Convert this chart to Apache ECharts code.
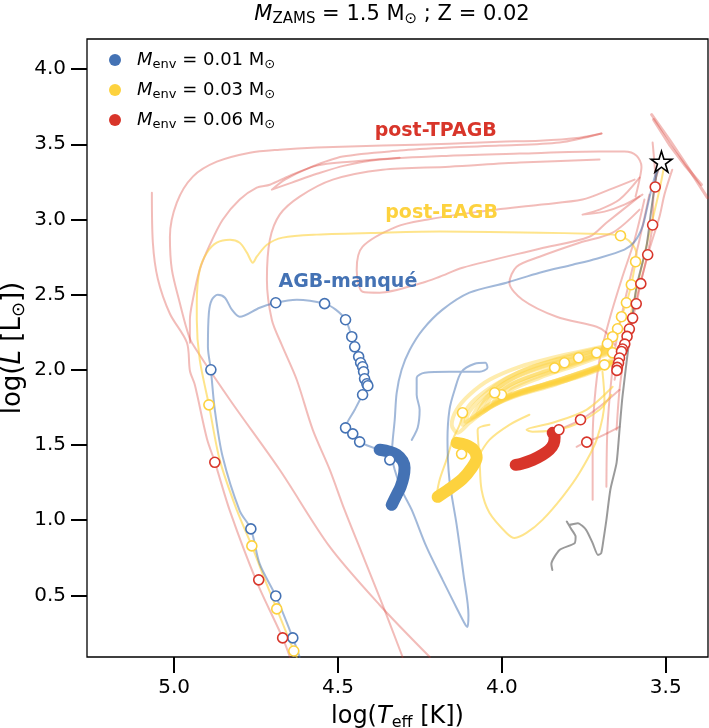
<!DOCTYPE html>
<html><head><meta charset="utf-8">
<script src="https://cdn.jsdelivr.net/npm/echarts@6/dist/echarts.min.js"></script>
<style>html,body{margin:0;padding:0;background:#fff}#c{width:709px;height:728px}</style>
</head><body><div id="c"></div>
<script>
// ---------------- data (log Teff, log L) ----------------
const xTicks = [3.5, 4.0, 4.5, 5.0];
const yTicks = [0.5, 1.0, 1.5, 2.0, 2.5, 3.0, 3.5, 4.0];
const envValues = ['0.01', '0.03', '0.06'];
const annotationTexts = ['post-TPAGB', 'post-EAGB', 'AGB-manqué'];
const annotationPos = [[4.202, 3.591], [4.184, 3.045], [4.470, 2.586]];
const starPoint = [[3.513, 3.384]];

const grayTrack = [[3.846,0.669],[3.849,0.709],[3.824,0.802],[3.778,0.847],[3.775,0.891],[3.788,0.940],[3.802,0.991],[3.794,0.969],[3.768,0.980],[3.743,0.936],[3.723,0.847],[3.707,0.769],[3.697,0.780],[3.690,0.869],[3.681,1.002],[3.669,1.202],[3.650,1.381],[3.641,1.601],[3.632,1.821],[3.611,2.200],[3.589,2.553],[3.559,2.819],[3.544,3.065],[3.528,3.298],[3.516,3.378]];

// M_env = 0.01 (blue)
const blueTrackA = [[3.513,3.384],[3.531,3.298],[3.544,3.198],[3.556,3.085],[3.571,2.952],[3.595,2.852],[3.626,2.799],[3.711,2.739],[3.784,2.699],[3.885,2.646],[3.986,2.579],[4.099,2.513],[4.181,2.400],[4.242,2.266],[4.281,2.133],[4.306,2.000],[4.321,1.847],[4.327,1.667],[4.333,1.534],[4.336,1.435],[4.327,1.335],[4.306,1.202],[4.275,1.068],[4.230,0.822],[4.181,0.603],[4.135,0.403],[4.111,0.303],[4.105,0.290],[4.102,0.370],[4.117,0.636],[4.138,0.969],[4.160,1.268],[4.166,1.534],[4.160,1.734],[4.144,1.867],[4.123,1.987],[4.083,2.040],[4.050,2.047],[4.044,2.014],[4.068,1.987],[4.160,1.987],[4.236,1.980],[4.260,1.947],[4.260,1.834],[4.251,1.734],[4.257,1.614],[4.275,1.534]];
const blueTrackB = [[4.373,1.468],[4.434,1.521],[4.455,1.574],[4.477,1.614],[4.449,1.734],[4.425,1.834],[4.409,1.894],[4.412,1.907],[4.419,1.940],[4.422,1.987],[4.425,2.020],[4.431,2.047],[4.437,2.087],[4.449,2.153],[4.458,2.220],[4.477,2.333],[4.507,2.400],[4.541,2.440],[4.626,2.466],[4.690,2.446],[4.739,2.413],[4.800,2.353],[4.824,2.400],[4.845,2.479],[4.867,2.499],[4.885,2.466],[4.894,2.380],[4.897,2.153],[4.888,2.000],[4.876,1.734],[4.852,1.421],[4.800,1.062],[4.766,0.942],[4.739,0.709],[4.690,0.496],[4.638,0.217],[4.617,0.090]];
const blueBlob = [[4.373,1.468],[4.342,1.455],[4.321,1.435],[4.303,1.395],[4.297,1.348],[4.300,1.288],[4.309,1.222],[4.321,1.168],[4.336,1.102]];
const blueMarkers = [[4.690,2.446],[4.541,2.440],[4.477,2.333],[4.458,2.220],[4.449,2.153],[4.437,2.087],[4.431,2.047],[4.425,2.020],[4.422,1.987],[4.419,1.940],[4.412,1.907],[4.409,1.894],[4.425,1.834],[4.477,1.614],[4.455,1.574],[4.434,1.521],[4.342,1.401],[4.888,2.000],[4.766,0.942],[4.690,0.496],[4.638,0.217]];

// M_env = 0.03 (yellow)
const yellowTrackA = [[3.711,2.113],[3.690,2.133],[3.678,2.173],[3.662,2.220],[3.647,2.273],[3.635,2.353],[3.620,2.446],[3.605,2.566],[3.592,2.719],[3.589,2.765],[3.601,2.832],[3.626,2.879],[3.662,2.899],[3.733,2.905],[3.885,2.912],[4.190,2.919],[4.364,2.912],[4.565,2.899],[4.669,2.879],[4.717,2.832],[4.748,2.752],[4.760,2.712],[4.778,2.779],[4.800,2.845],[4.830,2.865],[4.870,2.845],[4.900,2.779],[4.922,2.666],[4.931,2.446],[4.931,2.333],[4.922,2.067],[4.894,1.767],[4.861,1.401],[4.809,1.068],[4.763,0.829],[4.723,0.603],[4.687,0.410],[4.635,0.130],[4.626,0.090]];
const yellowTrackB = [[3.504,3.364],[3.519,3.198],[3.544,2.965],[3.565,2.765],[3.586,2.566],[3.611,2.333],[3.635,2.167],[3.656,2.080]];
const yellowTrackC = [[3.693,1.987],[3.687,1.801],[3.711,1.534],[3.763,1.315],[3.815,1.155],[3.876,1.002],[3.925,0.915],[3.961,0.882],[3.986,0.915],[4.038,1.049],[4.062,1.202],[4.068,1.401],[4.074,1.601],[4.038,1.634]];
const yellowTrackD = [[3.662,1.887],[3.742,1.734],[3.845,1.648],[3.925,1.601],[3.906,1.588],[3.794,1.621],[3.702,1.734],[3.666,1.834]];
const yellowTrackE = [[4.120,1.701],[4.129,1.634],[4.150,1.534],[4.169,1.401],[4.190,1.268],[4.199,1.168]];
const yellowTrackF = [[4.074,1.415],[4.038,1.534],[3.977,1.634],[3.916,1.701]];
const yellowLoop1 = [[3.666,2.167],[3.763,2.120],[3.845,2.080],[3.946,2.020],[4.038,1.934],[4.099,1.834],[4.138,1.734],[4.153,1.634],[4.135,1.581],[4.099,1.648],[4.038,1.747],[3.946,1.847],[3.855,1.914],[3.763,1.980],[3.666,2.053]];
const yellowLoop2 = [[3.666,2.153],[3.763,2.100],[3.855,2.053],[3.946,1.987],[4.022,1.900],[4.083,1.801],[4.114,1.714],[4.120,1.634],[4.099,1.667],[4.053,1.734],[3.977,1.814],[3.870,1.887],[3.763,1.954],[3.666,2.033]];
const yellowLoop3 = [[3.666,2.140],[3.763,2.080],[3.870,2.020],[3.961,1.947],[4.022,1.867],[4.068,1.767],[4.092,1.681],[4.074,1.694],[4.022,1.767],[3.946,1.834],[3.839,1.900],[3.733,1.987],[3.666,2.053]];
const yellowLoop4 = [[3.666,2.133],[3.778,2.053],[3.885,1.980],[3.977,1.900],[4.031,1.821],[4.053,1.734],[4.022,1.774],[3.946,1.854],[3.824,1.934],[3.702,2.027]];
const yellowLoop5 = [[3.666,2.120],[3.794,2.027],[3.916,1.934],[3.992,1.854],[4.007,1.801],[3.961,1.834],[3.855,1.900],[3.733,1.987],[3.666,2.067]];
const yellowLoop6 = [[3.666,2.160],[3.748,2.120],[3.839,2.067],[3.931,2.000],[4.007,1.914],[4.062,1.814],[4.099,1.721],[4.111,1.654],[4.086,1.681],[4.044,1.761],[3.977,1.834],[3.885,1.894],[3.778,1.967],[3.666,2.047]];
const yellowLoop7 = [[3.666,2.147],[3.763,2.087],[3.861,2.033],[3.952,1.960],[4.013,1.880],[4.050,1.801],[4.074,1.707],[4.047,1.734],[4.007,1.801],[3.931,1.867],[3.830,1.920],[3.717,2.000],[3.666,2.040]];
const yellowLoop8 = [[3.666,2.127],[3.769,2.053],[3.870,1.987],[3.961,1.914],[4.013,1.834],[4.028,1.767],[3.983,1.814],[3.900,1.880],[3.794,1.947],[3.687,2.027]];
const yellowLoop9 = [[3.666,2.113],[3.778,2.027],[3.885,1.947],[3.970,1.867],[3.983,1.814],[3.916,1.860],[3.809,1.927],[3.702,2.007]];
const yellowBlob = [[4.196,1.155],[4.160,1.208],[4.120,1.275],[4.092,1.348],[4.077,1.415],[4.086,1.468],[4.111,1.501],[4.138,1.514]];
const yellowMarkers = [[3.638,2.892],[3.592,2.719],[3.605,2.566],[3.620,2.446],[3.635,2.353],[3.647,2.273],[3.662,2.220],[3.678,2.173],[3.711,2.113],[3.662,2.113],[3.687,2.033],[3.766,2.080],[3.809,2.047],[3.839,2.013],[4.001,1.834],[4.022,1.847],[4.120,1.714],[4.123,1.441],[4.894,1.767],[4.763,0.829],[4.687,0.410],[4.635,0.130]];

// M_env = 0.06 (red, post-TPAGB)
const pinkOuter = [[3.696,3.571],[3.763,3.544],[3.885,3.524],[4.007,3.517],[4.160,3.504],[4.364,3.491],[4.565,3.478],[4.678,3.464],[4.769,3.444],[4.870,3.384],[4.943,3.285],[4.992,3.112],[5.013,2.885],[5.007,2.666],[4.983,2.446],[4.961,2.266],[4.946,2.180],[4.830,1.801],[4.678,1.335],[4.525,0.822],[4.373,0.436],[4.220,0.090]];
const pinkHook = [[3.696,3.571],[3.824,3.511],[4.007,3.491],[4.160,3.478],[4.312,3.458],[4.486,3.418],[4.586,3.345],[4.662,3.265],[4.702,3.198],[4.641,3.245],[4.562,3.305],[4.480,3.358],[4.373,3.398],[4.160,3.424],[3.946,3.438],[3.702,3.451],[3.626,3.451],[3.589,3.424],[3.574,3.351],[3.580,3.265],[3.592,3.152]];
const pinkInner = [[4.312,3.411],[4.464,3.384],[4.565,3.358],[4.647,3.291],[4.708,3.231],[4.748,3.211],[4.800,3.132],[4.852,2.998],[4.891,2.832],[4.922,2.666],[4.943,2.466],[4.952,2.333],[4.952,2.180]];
const pinkDown = [[3.702,3.398],[3.946,3.378],[4.160,3.351],[4.364,3.331],[4.516,3.265],[4.617,3.152],[4.678,3.032],[4.708,2.865],[4.717,2.599],[4.702,2.333],[4.672,2.167],[4.626,1.934],[4.577,1.601],[4.525,1.335],[4.480,1.068],[4.419,0.736],[4.358,0.403],[4.303,0.090]];
const pinkCooling = [[5.068,3.178],[5.065,2.845],[5.050,2.606],[5.013,2.373],[4.961,2.180],[4.952,1.994],[4.937,1.900],[4.900,1.541],[4.876,1.388],[4.830,1.062],[4.748,0.590],[4.669,0.217],[4.647,0.090]];
const pinkLoopLeft = [[3.580,3.152],[3.681,2.978],[3.733,2.885],[3.885,2.805],[4.120,2.679],[4.190,2.619],[4.242,2.579],[4.373,2.513],[4.425,2.519],[4.443,2.666],[4.425,2.819],[4.321,2.952],[4.230,2.998],[4.068,3.052],[3.885,3.098],[3.754,3.132],[3.672,3.198],[3.595,3.265]];
const pinkLeaf = [[3.580,3.278],[3.641,3.132],[3.702,3.065],[3.754,3.032],[3.687,3.052],[3.626,3.098],[3.571,3.165]];
const pinkLoopRight = [[3.580,3.065],[3.662,2.912],[3.763,2.845],[3.885,2.752],[3.955,2.686],[3.977,2.579],[3.937,2.466],[3.833,2.353],[3.711,2.286],[3.681,2.246],[3.656,2.167]];
const pinkAgb1 = [[3.565,3.132],[3.595,2.865],[3.635,2.599],[3.672,2.333],[3.702,2.067],[3.717,1.801],[3.723,1.534],[3.723,1.135]];
const pinkAgb2 = [[3.550,3.165],[3.580,2.865],[3.617,2.533],[3.650,2.200],[3.666,1.934],[3.678,1.601],[3.681,1.222]];
const pinkAgb3 = [[3.480,3.331],[3.504,3.165],[3.519,3.018],[3.550,2.799],[3.580,2.553],[3.605,2.333],[3.626,2.100],[3.641,1.867],[3.650,1.601]];
const pinkAgb4 = [[3.513,3.384],[3.531,3.265],[3.538,3.132],[3.540,2.965],[3.556,2.765],[3.577,2.573],[3.589,2.439],[3.601,2.346],[3.617,2.220],[3.632,2.133],[3.644,2.047],[3.650,1.994],[3.656,1.934]];
const pinkAgb5 = [[3.540,3.511],[3.534,3.364],[3.531,3.265]];
const pinkLink1 = [[3.641,1.867],[3.702,1.754],[3.760,1.667],[3.824,1.601],[3.845,1.561]];
const pinkLink2 = [[3.641,1.621],[3.702,1.554],[3.742,1.521],[3.772,1.488]];
const pinkWedgeA = [[3.543,3.697],[3.489,3.531],[3.428,3.331],[3.373,3.145]];
const pinkWedgeB = [[3.537,3.664],[3.489,3.498],[3.443,3.364],[3.391,3.231]];
const redBlob = [[3.958,1.368],[3.940,1.375],[3.906,1.401],[3.876,1.435],[3.855,1.468],[3.842,1.508],[3.839,1.554],[3.845,1.581]];
const redMarkers = [[3.532,3.216],[3.540,2.963],[3.555,2.765],[3.576,2.573],[3.590,2.439],[3.601,2.344],[3.611,2.271],[3.618,2.222],[3.625,2.171],[3.632,2.138],[3.635,2.122],[3.641,2.078],[3.644,2.045],[3.648,2.016],[3.649,1.996],[3.760,1.668],[3.826,1.601],[3.741,1.519],[4.876,1.385],[4.742,0.603],[4.669,0.217]];

// ---------------- chart ----------------
const FONT = 'DejaVu Sans';
const BLUE = '#4472b4', YEL = '#fdd23e', RED = '#d8352a';
const BLUE_L = 'rgba(68,114,180,0.5)', YEL_L = 'rgba(253,210,62,0.6)', RED_L = 'rgba(216,53,42,0.33)';

function lineS(data, color, width, z, smooth) {
  return { type: 'line', data: data, symbol: 'none', showSymbol: false, silent: true,
    smooth: smooth === undefined ? 0.3 : smooth, z: z,
    lineStyle: { color: color, width: width, cap: 'round', join: 'round' } };
}
function blobS(data, color) {
  return { type: 'line', data: data, symbol: 'none', silent: true, smooth: 0.3, z: 4,
    lineStyle: { color: color, width: 12, cap: 'round', join: 'round' } };
}
function markS(name, data, color) {
  return { type: 'scatter', name: name, data: data, symbol: 'circle', symbolSize: 10, z: 5, silent: true,
    itemStyle: { color: '#fff', borderColor: color, borderWidth: 1.6, opacity: 1 } };
}

const series = [];
[pinkOuter, pinkHook, pinkInner, pinkDown, pinkCooling, pinkLoopLeft, pinkLeaf, pinkLoopRight,
 pinkAgb1, pinkAgb2, pinkAgb3, pinkAgb4, pinkAgb5, pinkLink1, pinkLink2].forEach(d => series.push(lineS(d, RED_L, 2, 1)));
series.push(lineS(pinkWedgeA, RED_L, 3, 1, 0));
series.push(lineS(pinkWedgeB, RED_L, 3, 1, 0));
[yellowLoop1, yellowLoop2, yellowLoop3, yellowLoop4, yellowLoop5, yellowLoop6, yellowLoop7, yellowLoop8, yellowLoop9]
  .forEach(d => series.push(lineS(d, 'rgba(253,210,62,0.42)', 4, 2)));
[yellowTrackA, yellowTrackB, yellowTrackC, yellowTrackD, yellowTrackE, yellowTrackF].forEach(d => series.push(lineS(d, YEL_L, 2, 2)));
series.push(lineS(grayTrack, 'rgba(120,120,120,0.75)', 2, 2, 0.2));
[blueTrackA, blueTrackB].forEach(d => series.push(lineS(d, BLUE_L, 2, 3)));
series.push(blobS(blueBlob, BLUE));
series.push(blobS(yellowBlob, YEL));
series.push(blobS(redBlob, RED));
series.push(markS('env1', blueMarkers, BLUE));
series.push(markS('env3', yellowMarkers, YEL));
series.push(markS('env6', redMarkers, RED));
series.push({ type: 'scatter', data: starPoint, z: 6, silent: true,
  symbol: 'path://M50 0 L61.2 34.5 L97.6 34.5 L68.2 55.9 L79.4 90.5 L50 69.1 L20.6 90.5 L31.8 55.9 L2.4 34.5 L38.8 34.5 Z',
  symbolSize: 21, itemStyle: { color: '#fff', borderColor: '#000', borderWidth: 1.6, opacity: 1 } });
const annColors = [RED, YEL, BLUE];
annotationTexts.forEach((t, i) => series.push({ type: 'scatter', data: [annotationPos[i]], symbolSize: 0, z: 7, silent: true,
  itemStyle: { opacity: 1 },
  label: { show: true, position: 'inside', formatter: t, fontFamily: FONT, fontWeight: 'bold', fontSize: 19, color: annColors[i], opacity: 1 } }));

const legendColors = [BLUE, YEL, RED];
const legendNames = ['env1', 'env3', 'env6'];
const richSet = (fs, subfs, pad) => ({
  i: { fontFamily: FONT, fontStyle: 'italic', fontSize: fs, lineHeight: fs + 4, color: '#000' },
  r: { fontFamily: FONT, fontSize: fs, lineHeight: fs + 4, color: '#000' },
  s: { fontFamily: FONT, fontSize: subfs, lineHeight: subfs, padding: [pad, 0, 0, 0], color: '#000' }
});

const option = {
  animation: false,
  backgroundColor: '#fff',
  title: {
    text: '{i|M}{s|ZAMS}{r| = 1.5 M}{s|⊙}{r| ; Z = 0.02}',
    left: 387, top: -3, textAlign: 'center',
    textStyle: { fontFamily: FONT, fontSize: 21, fontWeight: 'normal', color: '#000', rich: richSet(21, 15, 10) }
  },
  grid: { left: 87, right: 1, top: 39, bottom: 71, outerBoundsMode: 'none', containLabel: false,
    show: true, borderColor: '#000', borderWidth: 1.3, backgroundColor: 'transparent' },
  legend: {
    orient: 'vertical', left: 104, top: 44, itemWidth: 28, itemHeight: 12, itemGap: 8, selectedMode: false,
    data: legendNames.map((n, i) => ({ name: n, icon: 'circle', itemStyle: { color: legendColors[i], borderWidth: 0 } })),
    formatter: n => '{i|M}{s|env}{r| = ' + envValues[legendNames.indexOf(n)] + ' M}{s|⊙}',
    textStyle: { fontFamily: FONT, fontSize: 18, color: '#000', padding: [0, 0, 0, 3], rich: richSet(18, 13, 9) }
  },
  xAxis: {
    type: 'value', inverse: true, min: 3.371, max: 5.266,
    name: '{r|log(}{i|T}{s|eff}{r| [K])}', nameLocation: 'middle', nameGap: 42,
    nameTextStyle: { fontFamily: FONT, fontSize: 24, color: '#000', rich: richSet(24, 16, 12) },
    axisLine: { show: false }, splitLine: { show: false },
    axisTick: { show: true, inside: false, length: 16, lineStyle: { color: '#000', width: 2 }, customValues: xTicks },
    axisLabel: { fontFamily: FONT, fontSize: 20, color: '#000', margin: 21, customValues: xTicks, formatter: v => v.toFixed(1) }
  },
  yAxis: {
    type: 'value', min: 0.09, max: 4.2,
    name: '{r|log(}{i|L}{r| [L}{s|⊙}{r|])}', nameLocation: 'middle', nameGap: 59, nameRotate: 90, nameMoveOverlap: false,
    nameTextStyle: { fontFamily: FONT, fontSize: 26, color: '#000', rich: richSet(26, 18, 12) },
    axisLine: { show: false }, splitLine: { show: false },
    axisTick: { show: true, inside: false, length: 16, lineStyle: { color: '#000', width: 2 }, customValues: yTicks },
    axisLabel: { fontFamily: FONT, fontSize: 20, color: '#000', margin: 21, customValues: yTicks, formatter: v => v.toFixed(1) }
  },
  series: series
};
const chart = echarts.init(document.getElementById('c'), null, { renderer: 'canvas' });
chart.setOption(option);
</script></body></html>
